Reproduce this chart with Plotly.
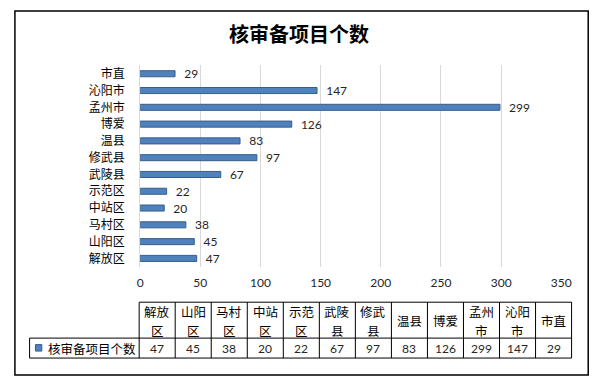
import plotly.graph_objects as go

categories = ["解放区", "山阳区", "马村区", "中站区", "示范区", "武陵县", "修武县", "温县", "博爱", "孟州市", "沁阳市", "市直"]
values = [47, 45, 38, 20, 22, 67, 97, 83, 126, 299, 147, 29]
table_headers = ["解放<br>区", "山阳<br>区", "马村<br>区", "中站<br>区", "示范<br>区", "武陵<br>县", "修武<br>县", "温县", "博爱", "孟州<br>市", "沁阳<br>市", "市直"]
x_ticks = [0, 50, 100, 150, 200, 250, 300, 350]
series_name = "核审备项目个数"
title = "核审备项目个数"

# page body has an 8px margin on every side; lay out in screen pixels and convert
OFF = 8
W, H = 616 - 2 * OFF, 385 - 2 * OFF
def px(x):
    return (x - OFF) / W
def py(y):
    return 1 - (y - OFF) / H

FONT = "Lato, 'Noto Sans CJK SC', sans-serif"
CJK = "'Noto Sans CJK SC', sans-serif"
BAR = "#4F81BD"
BAR_LINE = "#385D8A"

fig = go.Figure()
fig.add_trace(go.Bar(
    y=categories, x=values, orientation="h",
    marker=dict(color=BAR, line=dict(color=BAR_LINE, width=1)),
    text=values, texttemplate="  %{x}", textposition="outside",
    constraintext="none", cliponaxis=False,
    textfont=dict(family=FONT, size=12, color="#262626"),
    width=0.36, showlegend=False,
))

# ---- data table below the chart (lines + texts) ----
t_left, t_right = 139, 581
leg_left = 27
y_top, y_mid, y_bot = 302, 338, 358
n = len(categories)
col_w = (t_right - t_left) / n

shapes = []
def line(x0, y0, x1, y1, color="black", width=1):
    shapes.append(dict(type="line", xref="paper", yref="paper",
                       x0=px(x0), y0=py(y0), x1=px(x1), y1=py(y1),
                       line=dict(color=color, width=width)))

line(t_left, y_top, t_right, y_top)
line(leg_left, y_mid, t_right, y_mid)
line(leg_left, y_bot, t_right, y_bot)
line(leg_left, y_mid, leg_left, y_bot)
for i in range(n + 1):
    xx = t_left + i * col_w
    line(xx, y_top, xx, y_bot)

annotations = []
for i, (hdr, v) in enumerate(zip(table_headers, values)):
    cx = t_left + (i + 0.5) * col_w
    parts = hdr.split("<br>")
    ys = [311, 330] if len(parts) == 2 else [320]
    for p, yy in zip(parts, ys):
        annotations.append(dict(text=p, x=px(cx), y=py(yy), xref="paper", yref="paper",
                                showarrow=False, xanchor="center", yanchor="middle",
                                font=dict(family=CJK, size=12.5, color="black")))
    annotations.append(dict(text=str(v), x=px(cx), y=py(348.5), xref="paper", yref="paper",
                            showarrow=False, xanchor="center", yanchor="middle",
                            font=dict(family=FONT, size=12, color="#262626")))

# legend key in the table
shapes.append(dict(type="rect", xref="paper", yref="paper",
                   x0=px(33), x1=px(39.5), y0=py(351), y1=py(344.5),
                   fillcolor=BAR, line=dict(color=BAR_LINE, width=1)))
annotations.append(dict(text=series_name, x=px(44), y=py(348), xref="paper", yref="paper",
                        showarrow=False, xanchor="left", yanchor="middle",
                        font=dict(family=CJK, size=12.5, color="black")))

# title
annotations.append(dict(text=title, x=px(302), y=py(33), xref="paper", yref="paper",
                        showarrow=False, xanchor="center", yanchor="middle",
                        font=dict(family=CJK, size=20, color="black", weight="bold")))

# chart frame
shapes.append(dict(type="rect", xref="paper", yref="paper",
                   x0=px(12), x1=px(598), y0=py(375), y1=py(10),
                   line=dict(color="black", width=1.5)))

fig.update_layout(
    width=W, height=H,
    margin=dict(l=0, r=0, t=0, b=0),
    paper_bgcolor="white", plot_bgcolor="white",
    xaxis=dict(
        domain=[px(140), px(570.5)], range=[0, 350],
        tickvals=x_ticks, ticks="", showline=False,
        showgrid=True, gridcolor="#D9D9D9", gridwidth=1, zeroline=False,
        tickfont=dict(family=FONT, size=12, color="#262626"),
        ticklabelstandoff=7,
    ),
    yaxis=dict(
        domain=[py(266.5), py(64.5)],
        tickfont=dict(family=CJK, size=12, color="black"),
        ticks="", showline=True, linecolor="#D9D9D9", showgrid=False,
        ticklabelstandoff=12,
    ),
    annotations=annotations,
    shapes=shapes,
)

fig.write_html("out.html")
